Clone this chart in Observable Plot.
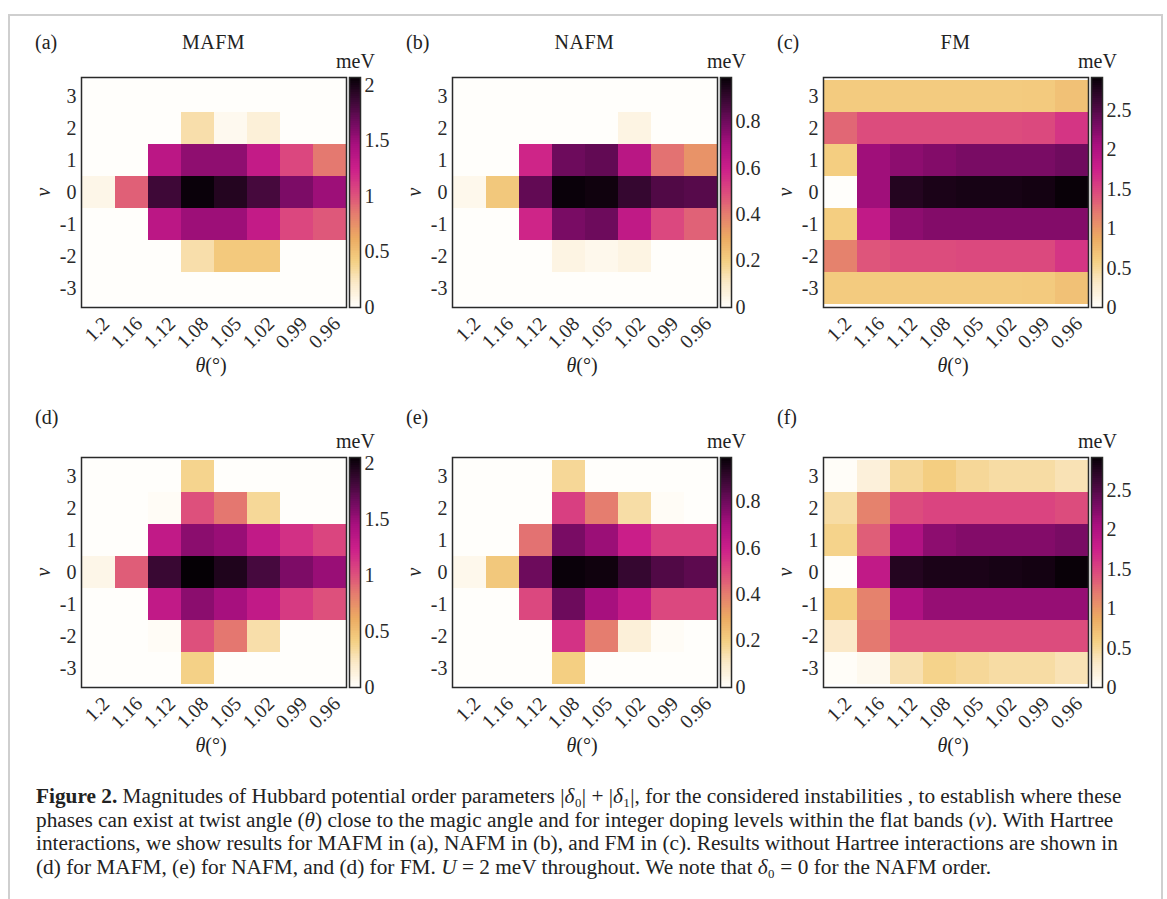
<!DOCTYPE html>
<html>
<head>
<meta charset="utf-8">
<script src="https://cdn.jsdelivr.net/npm/d3@7"></script>
<script src="https://cdn.jsdelivr.net/npm/@observablehq/plot@0.6"></script>
<style>
  html, body { margin: 0; padding: 0; background: #fff; }
  #fig { position: relative; width: 1167px; height: 899px; overflow: hidden; font-family: "Liberation Serif", "DejaVu Serif", serif; color: #222; }
  .abs { position: absolute; white-space: nowrap; }
  .lbl { font-size: 20px; line-height: 22px; }
  #border { position: absolute; left: 8px; top: 14px; width: 1151px; height: 900px; border-left: 2px solid #cfcfcf; border-top: 2px solid #cfcfcf; border-right: 2px solid #cfcfcf; }
  #caption { position: absolute; left: 36px; top: 785px; font-size: 21.3px; line-height: 23.7px; color: #222; white-space: nowrap; }
  svg text { font-family: "Liberation Serif", "DejaVu Serif", serif; }
</style>
</head>
<body>
<div id="fig">
  <div id="border"></div>
  <div id="caption">
    <b>Figure 2.</b> Magnitudes of Hubbard potential order parameters |<i>δ</i>₀| + |<i>δ</i>₁|, for the considered instabilities , to establish where these<br>
    phases can exist at twist angle (<i>θ</i>) close to the magic angle and for integer doping levels within the flat bands (<i>ν</i>). With Hartree<br>
    interactions, we show results for MAFM in (a), NAFM in (b), and FM in (c). Results without Hartree interactions are shown in<br>
    (d) for MAFM, (e) for NAFM, and (d) for FM. <i>U</i> = 2 meV throughout. We note that <i>δ</i>₀ = 0 for the NAFM order.
  </div>
</div>
<script>
// ---- data ----
const angles = ["1.2", "1.16", "1.12", "1.08", "1.05", "1.02", "0.99", "0.96"];
const nus = [3, 2, 1, 0, -1, -2, -3];

// rows: nu = 3, 2, 1, 0, -1, -2, -3 ; columns: angles
const mafmHartree = [
  [0, 0, 0, 0, 0, 0, 0, 0],
  [0, 0, 0, 0.30, 0.05, 0.15, 0, 0],
  [0, 0, 1.35, 1.55, 1.55, 1.30, 1.05, 0.85],
  [0.08, 0.95, 1.85, 2.05, 1.95, 1.82, 1.62, 1.50],
  [0, 0, 1.35, 1.50, 1.50, 1.30, 1.05, 0.98],
  [0, 0, 0, 0.30, 0.45, 0.45, 0, 0],
  [0, 0, 0, 0, 0, 0, 0, 0]
];
const nafmHartree = [
  [0, 0, 0, 0, 0, 0, 0, 0],
  [0, 0, 0, 0, 0, 0.05, 0, 0],
  [0, 0, 0.58, 0.80, 0.82, 0.65, 0.42, 0.35],
  [0.03, 0.22, 0.82, 0.98, 0.97, 0.90, 0.85, 0.84],
  [0, 0, 0.58, 0.78, 0.80, 0.63, 0.50, 0.45],
  [0, 0, 0, 0.05, 0.03, 0.05, 0, 0],
  [0, 0, 0, 0, 0, 0, 0, 0]
];
const fmHartree = [
  [0.62, 0.62, 0.62, 0.62, 0.62, 0.62, 0.63, 0.70],
  [1.30, 1.45, 1.45, 1.45, 1.45, 1.45, 1.47, 1.60],
  [0.60, 2.10, 2.20, 2.25, 2.30, 2.30, 2.30, 2.35],
  [0.00, 2.10, 2.75, 2.80, 2.82, 2.82, 2.84, 2.90],
  [0.60, 1.85, 2.20, 2.25, 2.25, 2.25, 2.25, 2.25],
  [1.15, 1.40, 1.45, 1.45, 1.47, 1.47, 1.47, 1.60],
  [0.62, 0.62, 0.62, 0.62, 0.62, 0.62, 0.63, 0.70]
];
const mafmNoHartree = [
  [0, 0, 0, 0.38, 0, 0, 0, 0],
  [0, 0, 0.02, 1.00, 0.85, 0.35, 0, 0],
  [0, 0, 1.30, 1.55, 1.50, 1.30, 1.15, 1.05],
  [0.08, 0.95, 1.85, 2.05, 1.95, 1.80, 1.60, 1.50],
  [0, 0, 1.30, 1.55, 1.45, 1.30, 1.10, 1.00],
  [0, 0, 0.02, 1.00, 0.85, 0.30, 0, 0],
  [0, 0, 0, 0.40, 0, 0, 0, 0]
];
const nafmNoHartree = [
  [0, 0, 0, 0.17, 0, 0, 0, 0],
  [0, 0, 0, 0.52, 0.40, 0.15, 0.01, 0],
  [0, 0, 0.42, 0.78, 0.72, 0.60, 0.52, 0.52],
  [0.03, 0.22, 0.80, 0.98, 0.97, 0.90, 0.85, 0.83],
  [0, 0, 0.50, 0.80, 0.70, 0.62, 0.50, 0.50],
  [0, 0, 0, 0.55, 0.40, 0.07, 0.01, 0],
  [0, 0, 0, 0.20, 0, 0, 0, 0]
];
const fmNoHartree = [
  [0.02, 0.20, 0.50, 0.60, 0.50, 0.45, 0.45, 0.38],
  [0.45, 1.15, 1.45, 1.50, 1.50, 1.50, 1.50, 1.45],
  [0.55, 1.35, 2.00, 2.20, 2.25, 2.25, 2.25, 2.30],
  [0.00, 1.85, 2.75, 2.80, 2.80, 2.82, 2.84, 2.90],
  [0.60, 1.15, 2.00, 2.15, 2.15, 2.15, 2.15, 2.15],
  [0.30, 1.20, 1.45, 1.45, 1.45, 1.45, 1.45, 1.45],
  [0.02, 0.08, 0.40, 0.55, 0.50, 0.45, 0.45, 0.38]
];

const panelLetters = ["(a)", "(b)", "(c)", "(d)", "(e)", "(f)"];
const panelTitles = ["MAFM", "NAFM", "FM", "", "", ""];
const colorMax = [2.07, 0.99, 2.92, 2.05, 0.99, 2.92];
const colorTicks = [
  [0, 0.5, 1, 1.5, 2],
  [0, 0.2, 0.4, 0.6, 0.8],
  [0, 0.5, 1, 1.5, 2, 2.5],
  [0, 0.5, 1, 1.5, 2],
  [0, 0.2, 0.4, 0.6, 0.8],
  [0, 0.5, 1, 1.5, 2, 2.5]
];
const colorStops = ["#fffefb", "#fbeacb", "#f4d083", "#ecaa62", "#e57f6e", "#dc4a7e", "#cc1f8a", "#ab1080", "#720b60", "#3a0834", "#050005"];

// ---- layout ----
const matrices = [mafmHartree, nafmHartree, fmHartree, mafmNoHartree, nafmNoHartree, fmNoHartree];
const frameLefts = [81, 452, 823];
const frameTops = [77, 457];
const frameW = 265, frameH = 230;
const cmap = d3.piecewise(d3.interpolateRgb, colorStops);
const fig = document.getElementById("fig");
const fontStyle = {fontFamily: "'Liberation Serif', 'DejaVu Serif', serif", fontSize: "20px", background: "transparent", color: "#2a2a2a", overflow: "visible"};

function place(el, left, top) {
  el.style.position = "absolute";
  el.style.left = left + "px";
  el.style.top = top + "px";
  fig.appendChild(el);
}
function addText(html, left, top, extra) {
  const d = document.createElement("div");
  d.className = "abs lbl";
  d.innerHTML = html;
  d.style.left = left + "px";
  d.style.top = top + "px";
  if (extra) Object.assign(d.style, extra);
  fig.appendChild(d);
  return d;
}

matrices.forEach((m, i) => {
  const col = i % 3, row = Math.floor(i / 3);
  const fl = frameLefts[col], ft = frameTops[row];
  const data = [];
  nus.forEach((nu, r) => angles.forEach((a, c) => data.push({theta: a, nu, v: m[r][c]})));
  const color = {type: "linear", domain: [0, colorMax[i]], interpolate: cmap};

  const mL = 51, mT = 17, mB = 75, mR = 2;
  const heat = Plot.plot({
    width: mL + frameW + mR, height: mT + frameH + mB,
    marginLeft: mL, marginRight: mR, marginTop: mT, marginBottom: mB,
    style: fontStyle,
    x: {type: "band", domain: angles, padding: 0},
    y: {type: "band", domain: nus, padding: 0},
    color,
    marks: [
      Plot.cell(data, {x: "theta", y: "nu", fill: "v"}),
      Plot.frame({stroke: "#2a2a2a", strokeWidth: 1.5}),
      Plot.axisX({tickRotate: -45, tickSize: 0, tickPadding: 13, dx: 7, label: null}),
      Plot.axisY({tickSize: 0, tickPadding: 5, label: null, tickFormat: d => String(d)})
    ]
  });
  place(heat, fl - mL, ft - mT);

  // colorbar
  const N = 120, vmax = colorMax[i];
  const steps = d3.range(N).map(k => ({a: vmax * k / N, b: vmax * (k + 1.05) / N, v: vmax * (k + 0.5) / N}));
  const cL = 4, cR = 45, cT = 17, cB = 10, cW = 11;
  const bar = Plot.plot({
    width: cL + cW + cR, height: cT + frameH + cB,
    marginLeft: cL, marginRight: cR, marginTop: cT, marginBottom: cB,
    style: fontStyle,
    x: {domain: [0, 1], axis: null},
    y: {domain: [0, vmax], axis: "right", ticks: colorTicks[i], tickSize: 0, tickPadding: 4, label: null, tickFormat: d => String(d)},
    color,
    marks: [
      Plot.rect(steps, {x1: 0, x2: 1, y1: "a", y2: "b", fill: "v", shapeRendering: "crispEdges"}),
      Plot.frame({stroke: "#2a2a2a", strokeWidth: 1.5})
    ]
  });
  place(bar, fl + 268 - cL, ft - cT);

  // texts
  addText("meV", fl + 255, ft - 24, {lineHeight: "17px"});
  addText("<i>ν</i>", fl - 42, ft + frameH / 2 - 11, {transform: "rotate(-90deg)", transformOrigin: "50% 50%"});
  addText("<i>θ</i>(°)", fl + frameW / 2 - 18, ft + frameH + 47);
  const letterTop = row === 0 ? ft - 46 : ft - 51;
  addText(panelLetters[i], fl - 46, letterTop);
  if (panelTitles[i]) {
    addText(panelTitles[i], fl + frameW / 2, letterTop, {transform: "translateX(-50%)", letterSpacing: "0.5px"});
  }
});
</script>
</body>
</html>
